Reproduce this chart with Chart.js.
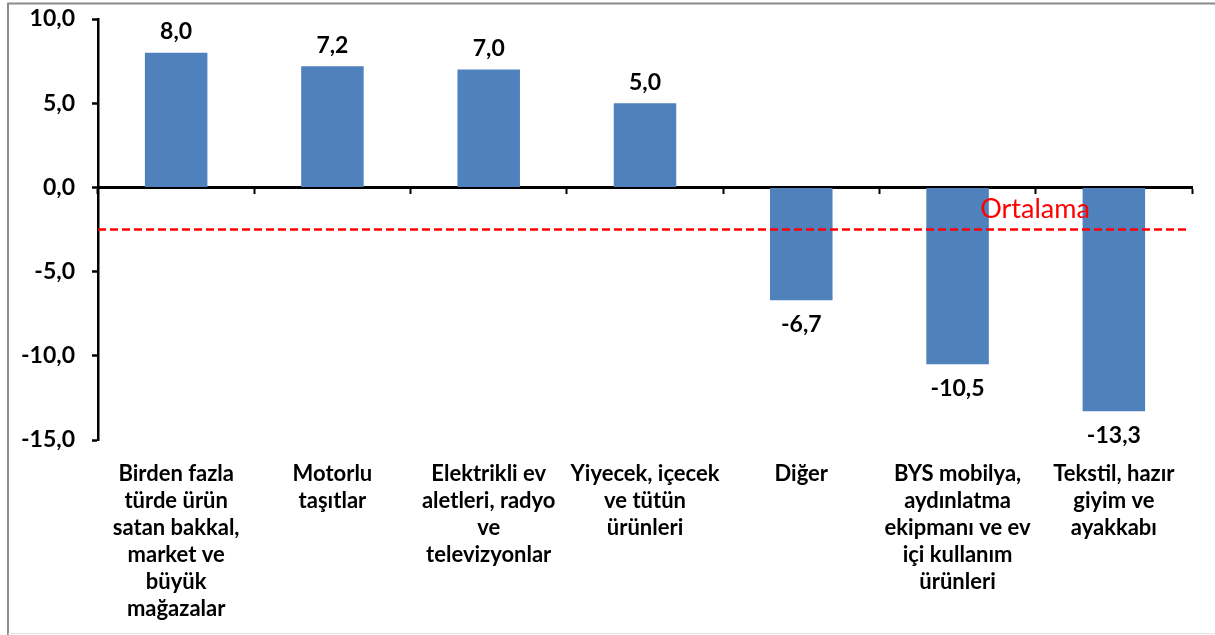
<!DOCTYPE html>
<html>
<head>
<meta charset="utf-8">
<script src="https://cdn.jsdelivr.net/npm/chart.js@4.4.1/dist/chart.umd.min.js"></script>
<style>
  html, body { margin: 0; padding: 0; background: #fff; }
  #wrap { width: 1215px; height: 635px; position: relative; }
</style>
</head>
<body>
<div id="wrap"><canvas id="c" width="1215" height="635"></canvas></div>
<script>
const categories = [
  ["Birden fazla", "türde ürün", "satan bakkal,", "market ve", "büyük", "mağazalar"],
  ["Motorlu", "taşıtlar"],
  ["Elektrikli ev", "aletleri, radyo", "ve", "televizyonlar"],
  ["Yiyecek, içecek", "ve tütün", "ürünleri"],
  ["Diğer"],
  ["BYS mobilya,", "aydınlatma", "ekipmanı ve ev", "içi kullanım", "ürünleri"],
  ["Tekstil, hazır", "giyim ve", "ayakkabı"]
];
const values = [8.0, 7.2, 7.0, 5.0, -6.7, -10.5, -13.3];
const averageValue = -2.5;
const averageLabel = "Ortalama";
const yTicks = [-15, -10, -5, 0, 5, 10];

const FONT = "Lato, 'Open Sans', 'DejaVu Sans', sans-serif";
const fmt = v => v.toFixed(1).replace('.', ',');

const decor = {
  id: 'decor',
  beforeDraw(chart) {
    const ctx = chart.ctx;
    ctx.save();
    ctx.strokeStyle = '#8c8c8c';
    ctx.lineWidth = 2;
    ctx.beginPath();
    ctx.moveTo(8, 635);
    ctx.lineTo(8, 3.5);
    ctx.lineTo(1215, 3.5);
    ctx.stroke();
    ctx.strokeStyle = '#e6e6e6';
    ctx.lineWidth = 1;
    ctx.beginPath();
    ctx.moveTo(8, 633.5);
    ctx.lineTo(1215, 633.5);
    ctx.stroke();
    ctx.restore();
  },
  afterDatasetsDraw(chart) {
    const ctx = chart.ctx;
    const y = chart.scales.y;
    const area = chart.chartArea;
    ctx.save();
    const py = y.getPixelForValue(averageValue);
    ctx.strokeStyle = '#ff0000';
    ctx.lineWidth = 2.5;
    ctx.setLineDash([8, 4]);
    ctx.beginPath();
    ctx.moveTo(area.left, py);
    ctx.lineTo(area.right - 5, py);
    ctx.stroke();
    ctx.setLineDash([]);
    ctx.fillStyle = '#ff0000';
    ctx.font = "27px " + FONT;
    ctx.textAlign = 'center';
    ctx.textBaseline = 'middle';
    ctx.fillText(averageLabel, 1035, py - 20);
    const meta = chart.getDatasetMeta(0);
    ctx.fillStyle = '#000';
    ctx.font = "bold 23px " + FONT;
    meta.data.forEach((bar, i) => {
      const v = values[i];
      const ty = v >= 0 ? bar.y - 21 : bar.y + 24;
      ctx.fillText(fmt(v), bar.x, ty);
    });
    ctx.restore();
  }
};

new Chart(document.getElementById('c'), {
  type: 'bar',
  data: {
    labels: categories,
    datasets: [{
      data: values,
      backgroundColor: '#4F81BD',
      borderWidth: 0,
      barPercentage: 0.4,
      categoryPercentage: 1.0,
      xAxisID: 'x'
    }]
  },
  options: {
    responsive: false,
    animation: false,
    events: [],
    layout: { padding: { top: 19, right: 23, bottom: 0, left: 0 } },
    plugins: { legend: { display: false }, tooltip: { enabled: false } },
    scales: {
      x: {
        type: 'category',
        position: { y: 0 },
        offset: true,
        grid: { display: true, offset: true, drawOnChartArea: false, drawTicks: true, tickLength: 5, tickColor: '#000', tickWidth: 2 },
        border: { display: true, color: '#000', width: 3 },
        ticks: { display: false },
        afterFit(s) { s.paddingTop = 0; s.paddingBottom = 0; s.paddingLeft = 0; s.paddingRight = 0; }
      },
      x2: {
        type: 'category',
        position: 'bottom',
        offset: true,
        labels: categories,
        grid: { display: false, drawTicks: false },
        border: { display: false },
        ticks: {
          color: '#000',
          padding: 20,
          maxRotation: 0,
          autoSkip: false,
          font: { family: FONT, size: 22, weight: 'bold', lineHeight: 1.23 }
        },
        afterFit(s) { s.height = 195; s.paddingLeft = 0; s.paddingRight = 0; }
      },
      y: {
        min: -15,
        max: 10,
        afterBuildTicks(s) { s.ticks = yTicks.map(v => ({ value: v })); },
        grid: { display: true, drawOnChartArea: false, drawTicks: true, tickLength: 6, tickColor: '#000', tickWidth: 2.5 },
        border: { display: true, color: '#000', width: 2.5 },
        ticks: {
          color: '#000',
          padding: 17,
          font: { family: FONT, size: 23, weight: 'bold' },
          callback: v => fmt(v)
        },
        afterFit(s) { s.width = 98; s.paddingTop = 0; s.paddingBottom = 0; }
      }
    }
  },
  plugins: [decor]
});
</script>
</body>
</html>
